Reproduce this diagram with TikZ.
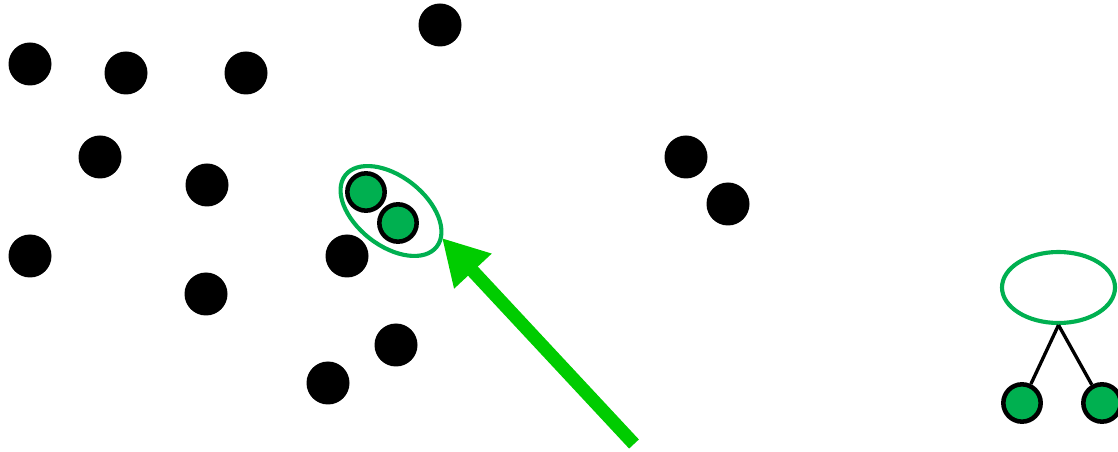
\documentclass[tikz,border=0pt]{standalone}
\usetikzlibrary{shapes.geometric,arrows.meta}
\definecolor{dotgreen}{RGB}{0,176,80}
\definecolor{arrowgreen}{RGB}{0,204,0}
\begin{document}
\begin{tikzpicture}[x=0.75pt,y=-0.75pt,
  blackdot/.style={circle,fill=black,inner sep=0pt,minimum size=32.25pt},
  greendot/.style={circle,fill=dotgreen,draw=black,line width=3.4pt,inner sep=0pt,minimum size=28pt},
  grouping/.style={ellipse,draw=dotgreen,line width=3.1pt,inner sep=0pt},
  bigarrow/.style={draw=arrowgreen,line width=10pt,-{Triangle[length=34pt,width=36pt]}},
  branch/.style={draw=black,line width=2.5pt}]
\useasboundingbox (0,0) rectangle (1118,452);
% black dots
\node[blackdot] (b1) at (30,64) {};
\node[blackdot] (b2) at (126,73) {};
\node[blackdot] (b3) at (246,73) {};
\node[blackdot] (b4) at (440,25) {};
\node[blackdot] (b5) at (100,157) {};
\node[blackdot] (b6) at (207,185) {};
\node[blackdot] (b7) at (30,256) {};
\node[blackdot] (b8) at (206,294) {};
\node[blackdot] (b9) at (347,256) {};
\node[blackdot] (b10) at (396,345) {};
\node[blackdot] (b11) at (328,383) {};
\node[blackdot] (b12) at (686,157) {};
\node[blackdot] (b13) at (728,204) {};
% grouped green dots
\node[greendot] (g1) at (366,192) {};
\node[greendot] (g2) at (398,223) {};
\node[grouping,minimum width=87pt,minimum height=52pt,rotate=-38] (grp) at (391,211) {};
% arrow
\coordinate (tail) at (634,444);
\coordinate (tip) at (442,238);
\draw[bigarrow] (tail) -- (tip);
% tree
\node[grouping,minimum width=84.75pt,minimum height=53.25pt] (root) at (1058.5,287.5) {};
\node[greendot] (l1) at (1022,403) {};
\node[greendot] (l2) at (1102,403) {};
\draw[branch] (root.south) -- (l1);
\draw[branch] (root.south) -- (l2);
\end{tikzpicture}
\end{document}
